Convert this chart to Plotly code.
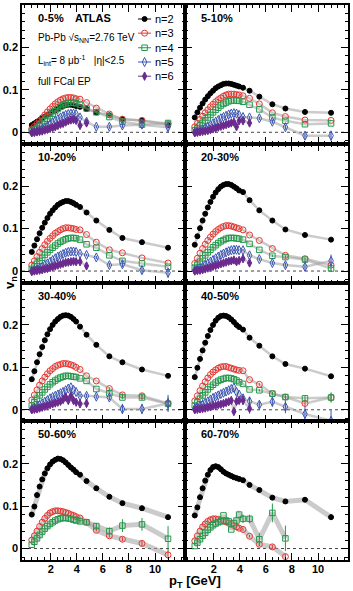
import plotly.graph_objects as go
from plotly.subplots import make_subplots

# ---------------- data ----------------
pt = [0.55, 0.75, 0.95, 1.15, 1.35, 1.55, 1.75, 1.95, 2.15, 2.35, 2.55, 2.75, 2.95,
      3.15, 3.35, 3.55, 3.75, 3.95, 4.25, 4.75, 5.5, 6.5, 7.5, 9.0, 11.0]

centralities = ["0-5%", "5-10%", "10-20%", "20-30%", "30-40%", "40-50%", "50-60%", "60-70%"]
harmonics = ["n=2", "n=3", "n=4", "n=5", "n=6"]

v2 = {
 "0-5%":   [0.017,0.021,0.025,0.029,0.033,0.037,0.041,0.045,0.049,0.052,0.056,0.059,0.062,0.064,0.065,0.065,0.064,0.062,0.060,0.055,0.047,0.040,0.031,0.028,0.017],
 "5-10%":  [0.035,0.047,0.058,0.068,0.077,0.085,0.092,0.098,0.104,0.108,0.111,0.114,0.115,0.115,0.114,0.112,0.110,0.108,0.105,0.098,0.084,0.066,0.056,0.048,0.046],
 "10-20%": [0.045,0.060,0.075,0.089,0.102,0.114,0.125,0.135,0.143,0.150,0.156,0.160,0.163,0.165,0.165,0.163,0.160,0.156,0.151,0.138,0.119,0.097,0.078,0.068,0.055],
 "20-30%": [0.062,0.082,0.101,0.119,0.135,0.150,0.163,0.175,0.185,0.193,0.199,0.203,0.205,0.205,0.203,0.199,0.195,0.190,0.186,0.167,0.143,0.119,0.098,0.085,0.074],
 "30-40%": [0.072,0.091,0.112,0.131,0.148,0.164,0.178,0.190,0.200,0.208,0.214,0.219,0.222,0.223,0.222,0.219,0.214,0.208,0.196,0.177,0.153,0.126,0.112,0.095,0.080],
 "40-50%": [0.077,0.099,0.120,0.140,0.158,0.174,0.188,0.200,0.210,0.217,0.221,0.222,0.221,0.218,0.213,0.207,0.200,0.195,0.189,0.170,0.151,0.126,0.108,0.097,0.079],
 "50-60%": [0.080,0.099,0.126,0.146,0.163,0.177,0.189,0.198,0.205,0.209,0.212,0.211,0.208,0.203,0.197,0.191,0.186,0.180,0.174,0.159,0.142,0.122,0.107,0.095,0.074],
 "60-70%": [0.078,0.097,0.121,0.142,0.160,0.174,0.185,0.192,0.194,0.192,0.187,0.181,0.177,0.174,0.171,0.168,0.166,0.164,0.161,0.150,0.138,0.120,0.111,0.115,0.074],
}
v3 = {
 "0-5%":   [0.008,0.014,0.020,0.027,0.034,0.041,0.048,0.055,0.061,0.067,0.072,0.076,0.079,0.081,0.082,0.082,0.081,0.079,0.078,0.070,0.057,0.043,0.031,0.028,0.020],
 "5-10%":  [0.013,0.021,0.030,0.038,0.046,0.053,0.060,0.066,0.072,0.077,0.081,0.085,0.088,0.090,0.090,0.090,0.089,0.088,0.086,0.080,0.067,0.046,0.037,0.029,0.028],
 "10-20%": [0.014,0.024,0.034,0.044,0.053,0.062,0.070,0.077,0.083,0.089,0.093,0.097,0.100,0.102,0.102,0.101,0.100,0.098,0.097,0.086,0.068,0.050,0.043,0.031,0.019],
 "20-30%": [0.018,0.030,0.042,0.053,0.063,0.072,0.080,0.087,0.093,0.098,0.102,0.105,0.107,0.107,0.106,0.104,0.102,0.100,0.097,0.085,0.072,0.053,0.037,0.029,0.014],
 "30-40%": [0.023,0.035,0.047,0.058,0.068,0.077,0.085,0.092,0.097,0.102,0.105,0.107,0.109,0.109,0.108,0.106,0.104,0.100,0.095,0.080,0.068,0.050,0.035,0.033,0.015],
 "40-50%": [0.021,0.033,0.045,0.056,0.066,0.075,0.083,0.089,0.094,0.098,0.101,0.102,0.102,0.100,0.098,0.096,0.094,0.093,0.092,0.071,0.060,0.038,0.030,0.015,0.029],
 "50-60%": [0.020,0.030,0.041,0.052,0.062,0.071,0.078,0.084,0.087,0.089,0.089,0.088,0.087,0.085,0.083,0.080,0.078,0.075,0.072,0.062,0.043,0.030,0.022,0.012,-0.015],
 "60-70%": [0.018,0.030,0.041,0.051,0.058,0.064,0.068,0.070,0.070,0.069,0.067,0.065,0.063,0.060,0.057,0.054,0.051,0.048,0.045,0.029,0.010,0.004,-0.019],
}
v4 = {
 "0-5%":   [0.003,0.006,0.010,0.015,0.020,0.026,0.032,0.038,0.044,0.050,0.055,0.060,0.064,0.067,0.069,0.070,0.070,0.068,0.065,0.056,0.047,0.036,0.025,0.018,0.022],
 "5-10%":  [0.005,0.010,0.016,0.022,0.028,0.035,0.041,0.047,0.053,0.058,0.063,0.067,0.070,0.073,0.075,0.075,0.075,0.074,0.072,0.065,0.054,0.035,0.027,0.019,0.021],
 "10-20%": [0.005,0.011,0.017,0.024,0.031,0.038,0.044,0.050,0.055,0.060,0.065,0.069,0.072,0.075,0.077,0.078,0.078,0.077,0.074,0.063,0.055,0.037,0.024,0.018,0.010],
 "20-30%": [0.008,0.015,0.022,0.030,0.037,0.044,0.050,0.056,0.061,0.066,0.070,0.073,0.076,0.078,0.078,0.078,0.077,0.076,0.074,0.064,0.050,0.036,0.033,0.027,0.006],
 "30-40%": [0.010,0.018,0.026,0.034,0.041,0.048,0.054,0.060,0.065,0.069,0.073,0.076,0.078,0.080,0.080,0.079,0.078,0.077,0.074,0.068,0.049,0.039,0.029,0.029,0.014],
 "40-50%": [0.010,0.018,0.026,0.034,0.041,0.048,0.054,0.059,0.064,0.068,0.071,0.073,0.075,0.075,0.074,0.072,0.069,0.065,0.061,0.048,0.046,0.038,0.030,0.027,0.029],
 "50-60%": [0.009,0.016,0.024,0.032,0.040,0.047,0.053,0.058,0.062,0.066,0.069,0.071,0.072,0.072,0.071,0.070,0.068,0.066,0.064,0.062,0.053,0.041,0.054,0.057,0.023],
 "60-70%": [0.006,0.014,0.022,0.030,0.037,0.044,0.050,0.055,0.059,0.062,0.064,0.078,0.066,0.064,0.045,0.060,0.066,0.080,0.070,0.070,0.022,0.084,0.024],
}
v5 = {
 "0-5%":   [0.000,0.001,0.003,0.005,0.008,0.011,0.015,0.019,0.023,0.027,0.031,0.035,0.038,0.041,0.043,0.044,0.044,0.043,0.035,0.025,0.013,0.013,0.016,0.018,0.012],
 "5-10%":  [0.000,0.002,0.004,0.007,0.010,0.013,0.017,0.021,0.025,0.029,0.033,0.036,0.039,0.042,0.044,0.045,0.044,0.041,0.036,0.035,0.033,0.025,0.012,-0.008,-0.008],
 "10-20%": [0.000,0.002,0.004,0.007,0.010,0.014,0.018,0.022,0.026,0.030,0.034,0.037,0.040,0.043,0.045,0.046,0.046,0.045,0.041,0.038,0.032,0.014,0.016,0.002,-0.004],
 "20-30%": [0.002,0.004,0.007,0.010,0.014,0.018,0.022,0.026,0.030,0.034,0.038,0.041,0.044,0.047,0.049,0.050,0.050,0.049,0.049,0.037,0.028,0.019,0.014,0.010,0.024],
 "30-40%": [0.002,0.005,0.008,0.011,0.015,0.019,0.023,0.027,0.030,0.033,0.036,0.039,0.042,0.046,0.050,0.053,0.047,0.042,0.033,0.033,0.031,0.029,0.002,0.002,0.015],
 "40-50%": [0.003,0.006,0.009,0.012,0.016,0.020,0.024,0.028,0.031,0.034,0.037,0.040,0.043,0.046,0.049,0.052,0.042,0.036,0.027,0.020,0.012,0.019,0.007,-0.010,-0.026],
}
v6 = {
 "0-5%":   [-0.001,0.000,0.001,0.002,0.003,0.005,0.007,0.009,0.011,0.013,0.016,0.019,0.021,0.024,0.027,0.029,0.030,0.028,0.016,0.022],
 "5-10%":  [-0.001,0.000,0.001,0.002,0.003,0.004,0.006,0.008,0.010,0.012,0.014,0.016,0.018,0.020,0.022,0.024,0.013,0.027,0.027,0.022],
 "10-20%": [-0.001,0.000,0.001,0.002,0.003,0.005,0.006,0.008,0.010,0.012,0.014,0.016,0.018,0.020,0.021,0.022,0.023,0.022,0.022,0.012],
 "20-30%": [0.000,0.001,0.002,0.003,0.005,0.007,0.009,0.011,0.013,0.015,0.017,0.019,0.021,0.023,0.024,0.026,0.022,0.025,0.029,0.019],
 "30-40%": [0.000,0.001,0.002,0.004,0.006,0.008,0.010,0.012,0.014,0.016,0.018,0.020,0.024,0.030,0.022,0.033,0.022,0.018,0.014,0.015],
 "40-50%": [0.000,0.001,0.002,0.003,0.004,0.006,0.007,0.009,0.010,0.012,0.013,0.015,0.017,0.019,0.022,-0.004,0.020,0.022,0.022,0.003],
}

# statistical errors on the high-pT points (4.25 ... 11 GeV); dense low-pT points have negligible errors
err_hi = {
 ("0-5%", "n=2"): [0, 0, 0, 0.002, 0.002, 0.003, 0.004],
 ("0-5%", "n=3"): [0, 0, 0, 0.002, 0.003, 0.003, 0.005],
 ("0-5%", "n=4"): [0, 0, 0.002, 0.002, 0.003, 0.004, 0.006],
 ("0-5%", "n=5"): [0.003, 0.004, 0.004, 0.005, 0.006, 0.008, 0.012],
 ("0-5%", "n=6"): [0.004, 0.005],
 ("5-10%", "n=5"): [0.003, 0.003, 0.004, 0.005, 0.006, 0.009, 0.012],
 ("5-10%", "n=6"): [0.004, 0.005],
 ("10-20%", "n=5"): [0.003, 0.003, 0.004, 0.005, 0.007, 0.008, 0.012],
 ("10-20%", "n=6"): [0.004, 0.005],
 ("20-30%", "n=5"): [0.003, 0.004, 0.004, 0.005, 0.006, 0.008, 0.015],
 ("20-30%", "n=4"): [0, 0, 0, 0.003, 0.004, 0.005, 0.008],
 ("30-40%", "n=5"): [0.004, 0.005, 0.005, 0.006, 0.012, 0.012, 0.02],
 ("30-40%", "n=4"): [0, 0, 0, 0.003, 0.004, 0.006, 0.015],
 ("30-40%", "n=3"): [0, 0, 0, 0.003, 0.004, 0.006, 0.012],
 ("30-40%", "n=6"): [0.006, 0.007],
 ("40-50%", "n=5"): [0.01, 0.01, 0.008, 0.012, 0.015, 0.018, 0.025],
 ("40-50%", "n=4"): [0, 0, 0.003, 0.004, 0.005, 0.007, 0.012],
 ("40-50%", "n=3"): [0, 0, 0.003, 0.004, 0.005, 0.007, 0.01],
 ("40-50%", "n=6"): [0.01, 0.012],
 ("50-60%", "n=4"): [0.004, 0.005, 0.007, 0.009, 0.015, 0.015, 0.03],
 ("50-60%", "n=3"): [0.002, 0.003, 0.003, 0.004, 0.005, 0.006, 0.01],
 ("50-60%", "n=2"): [0, 0, 0, 0.002, 0.003, 0.004, 0.005],
 ("60-70%", "n=4"): [0.01, 0.01, 0.015, 0.022, 0.03],
 ("60-70%", "n=3"): [0.003, 0.003, 0.004, 0.005, 0.006],
 ("60-70%", "n=2"): [0, 0, 0.003, 0.004, 0.004, 0.005, 0.007],
}

series = {"n=2": v2, "n=3": v3, "n=4": v4, "n=5": v5, "n=6": v6}

style = {
 "n=2": dict(symbol="circle", color="#000000", size=5),
 "n=3": dict(symbol="circle-open", color="#e8352f", size=6),
 "n=4": dict(symbol="square-open", color="#1f9a48", size=5.5),
 "n=5": dict(symbol="diamond-tall-open", color="#3a55b5", size=6.5),
 "n=6": dict(symbol="diamond-tall", color="#6a2a8e", size=6),
}

band_width = {"50-60%": 5, "60-70%": 5}

FONT = "Liberation Sans"

fig = make_subplots(rows=4, cols=2, shared_xaxes=True, shared_yaxes=True,
                    horizontal_spacing=0, vertical_spacing=0)

for i, cen in enumerate(centralities):
    r, c = i // 2 + 1, i % 2 + 1
    for h in harmonics:
        if cen not in series[h]:
            continue
        y = series[h][cen]
        x = pt[:len(y)]
        hi = err_hi.get((cen, h), [])
        nd = len(y) - 18
        hi_full = ([0] * (nd - len(hi)) + hi) if nd > 0 else []
        err = [0] * min(18, len(y)) + hi_full
        st = style[h]
        # systematic band (grey connecting line)
        fig.add_trace(go.Scatter(x=x, y=y, mode="lines",
                                 line=dict(color="rgba(160,160,160,0.55)",
                                           width=band_width.get(cen, 2.5)),
                                 showlegend=False, hoverinfo="skip"), row=r, col=c)
        fig.add_trace(go.Scatter(x=x, y=y, mode="markers",
                                 marker=dict(symbol=st["symbol"], color=st["color"], size=st["size"],
                                             line=dict(color=st["color"], width=1)),
                                 error_y=dict(type="data", array=err, visible=True,
                                              color=st["color"], thickness=1, width=0),
                                 showlegend=False), row=r, col=c)
    fig.add_hline(y=0, line=dict(color="#444444", width=1, dash="dot"), layer="below", row=r, col=c)
    # centrality label
    xr = "x domain" if i == 0 else f"x{i+1} domain"
    yr = "y domain" if i == 0 else f"y{i+1} domain"
    fig.add_annotation(x=0.085, y=0.905, xref=xr, yref=yr, text=f"<b>{cen}</b>",
                       showarrow=False, xanchor="left", yanchor="middle",
                       font=dict(family=FONT, size=11, color="black"))

# ---- legend drawn in panel 1 on an invisible overlay frame (0..1 in panel units) ----
LEG_X0, LEG_XM, LEG_X1, LEG_TX = 0.712, 0.752, 0.792, 0.805
LEG_ROWS = [0.899, 0.797, 0.692, 0.589, 0.487]
fig.update_layout(
    xaxis9=dict(overlaying="x", range=[0, 1], visible=False, anchor="y9"),
    yaxis9=dict(overlaying="y", range=[0, 1], visible=False, anchor="x9"),
)
for h, ly in zip(harmonics, LEG_ROWS):
    st = style[h]
    fig.add_trace(go.Scatter(x=[LEG_X0, LEG_X1], y=[ly, ly], mode="lines",
                             line=dict(color=st["color"], width=1),
                             xaxis="x9", yaxis="y9", showlegend=False, hoverinfo="skip"))
    fig.add_trace(go.Scatter(x=[LEG_XM], y=[ly], mode="markers",
                             marker=dict(symbol=st["symbol"], color=st["color"], size=st["size"],
                                         line=dict(color=st["color"], width=1)),
                             xaxis="x9", yaxis="y9", showlegend=False, hoverinfo="skip"))
    fig.add_annotation(x=LEG_TX, y=ly, xref="x domain", yref="y domain", text=h,
                       showarrow=False, xanchor="left", yanchor="middle",
                       font=dict(family=FONT, size=11, color="black"))

# text in first panel
txt = [
    (0.31, 0.905, "<b>ATLAS</b>", 11),
    (0.085, 0.76, "Pb-Pb √s<sub>NN</sub>=2.76 TeV", 10),
    (0.085, 0.60, "L<sub>int</sub>= 8 μb<sup>-1</sup>   |η|<2.5", 10),
    (0.085, 0.45, "full FCal EP", 10),
]
for x0, y0, t, s in txt:
    fig.add_annotation(x=x0, y=y0, xref="x domain", yref="y domain", text=t, showarrow=False,
                       xanchor="left", yanchor="middle", font=dict(family=FONT, size=s, color="black"))

axis_common = dict(showline=True, linecolor="black", linewidth=1.5, mirror="allticks",
                   ticks="inside", ticklen=7, tickwidth=1, tickcolor="black",
                   showgrid=False, zeroline=False,
                   tickfont=dict(family=FONT, size=11, color="black", weight="bold"))

for i in range(1, 9):
    xa = "xaxis" if i == 1 else f"xaxis{i}"
    ya = "yaxis" if i == 1 else f"yaxis{i}"
    fig.layout[xa].update(range=[-0.2, 12.3], tickvals=[2, 4, 6, 8, 10], ticklabelstandoff=-2,
                          minor=dict(dtick=0.5, tick0=0, ticklen=3, ticks="inside", tickcolor="black"),
                          **axis_common)
    fig.layout[ya].update(range=[-0.027, 0.3], tickvals=[0, 0.1, 0.2], ticktext=["0", "0.1", "0.2"],
                          minor=dict(dtick=0.02, tick0=0, ticklen=3, ticks="inside", tickcolor="black"),
                          **axis_common)

fig.add_annotation(x=-0.035, y=0.5, xref="paper", yref="paper", text="<b>v<sub>n</sub></b>",
                   textangle=-90, showarrow=False, xanchor="center", yanchor="middle",
                   font=dict(family=FONT, size=13, color="black"))
fig.add_annotation(x=0.618, y=-0.057, xref="paper", yref="paper", text="<b>p<sub>T</sub> [GeV]</b>",
                   showarrow=False, xanchor="right", yanchor="bottom",
                   font=dict(family=FONT, size=13, color="black"))

fig.update_layout(
    width=353, height=591,
    margin=dict(l=19, r=3, t=5, b=31),
    paper_bgcolor="white", plot_bgcolor="white",
    showlegend=False,
)

fig.write_html("out.html")
